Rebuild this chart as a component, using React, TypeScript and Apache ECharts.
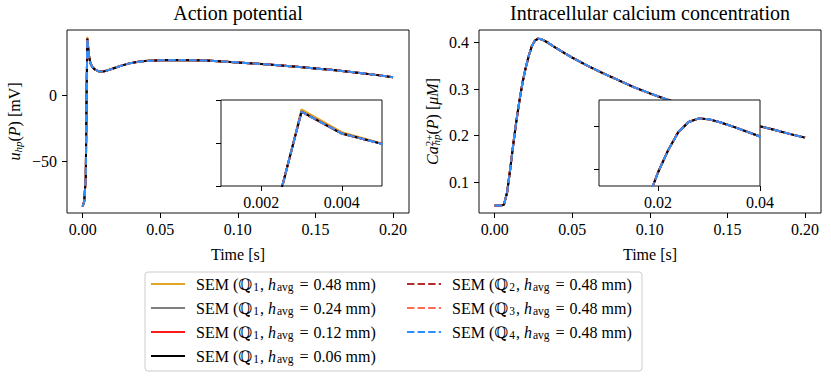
import React, { useEffect, useRef } from 'react';
import * as echarts from 'echarts';

// ---------- data ----------
const timeAP = [0, 0.001, 0.002, 0.0025, 0.003, 0.004, 0.005, 0.006, 0.007, 0.008, 0.010, 0.012, 0.014, 0.016, 0.020, 0.025, 0.030, 0.035, 0.040, 0.050, 0.060, 0.070, 0.080, 0.090, 0.100, 0.110, 0.120, 0.130, 0.140, 0.150, 0.160, 0.170, 0.180, 0.190, 0.200];
const apCoarse = [-84, -80, -62, -3, 44.6, 31.3, 24.8, 22.4, 20.9, 19.8, 18.7, 18.4, 18.6, 19.2, 20.8, 22.8, 24.5, 25.6, 26.3, 26.8, 27.0, 26.9, 26.6, 26.0, 25.2, 24.4, 23.6, 22.7, 21.7, 20.7, 19.6, 18.4, 17.1, 15.6, 14.0];
const apRefined = [-84, -80, -62, -2, 43.2, 30.5, 24.5, 22.3, 20.8, 19.7, 18.6, 18.3, 18.6, 19.2, 20.8, 22.8, 24.5, 25.6, 26.3, 26.8, 27.0, 26.9, 26.6, 26.0, 25.2, 24.4, 23.6, 22.7, 21.7, 20.7, 19.6, 18.4, 17.1, 15.6, 14.0];

const timeCa = [0, 0.002, 0.004, 0.006, 0.008, 0.010, 0.012, 0.014, 0.016, 0.018, 0.020, 0.022, 0.024, 0.026, 0.028, 0.030, 0.032, 0.035, 0.040, 0.045, 0.050, 0.060, 0.070, 0.080, 0.090, 0.100, 0.110, 0.120, 0.130, 0.140, 0.150, 0.160, 0.170, 0.180, 0.190, 0.200];
const caValues = [0.050, 0.050, 0.050, 0.052, 0.078, 0.128, 0.182, 0.232, 0.276, 0.315, 0.346, 0.372, 0.393, 0.4045, 0.4086, 0.4075, 0.4045, 0.3985, 0.3875, 0.3775, 0.368, 0.350, 0.334, 0.319, 0.304, 0.291, 0.279, 0.268, 0.257, 0.247, 0.238, 0.229, 0.221, 0.213, 0.204, 0.196];

const seriesNames = ['Q1_048', 'Q1_024', 'Q1_012', 'Q1_006', 'Q2_048', 'Q3_048', 'Q4_048'];
const seriesQ = ['1', '1', '1', '1', '2', '3', '4'];
const seriesH = ['0.48', '0.24', '0.12', '0.06', '0.48', '0.48', '0.48'];
const seriesColors = ['#E0A526', '#7f7f7f', '#ff1a1a', '#000000', '#b52a2a', '#ff6a50', '#2a8fff'];
const seriesDashed = [false, false, false, false, true, true, true];

const apXTicks = [0, 0.05, 0.1, 0.15, 0.2];
const apYTicks = [-50, 0];
const caXTicks = [0, 0.05, 0.1, 0.15, 0.2];
const caYTicks = [0.1, 0.2, 0.3, 0.4];
const apInsetXTicks = [0.002, 0.004];
const apInsetYTicks = [0, 25, 50];
const caInsetXTicks = [0.02, 0.04];
const caInsetYTicks = [0.35, 0.4];

// ---------- styling ----------
const FONT = "'Liberation Serif', 'DejaVu Serif', serif";
const FS = 16;

const rich = {
  it: { fontStyle: 'italic', fontFamily: FONT, fontSize: FS, lineHeight: 18 },
  eq: { fontFamily: FONT, fontSize: FS, lineHeight: 18, padding: [0, 5, 0, 5] },
  sub: { fontFamily: FONT, fontSize: 11.5, verticalAlign: 'bottom', lineHeight: 10, padding: [0, 1, 0, 1] },
  subit: { fontFamily: FONT, fontStyle: 'italic', fontSize: 11, verticalAlign: 'bottom', lineHeight: 10 },
  sup: { fontFamily: FONT, fontSize: 11, verticalAlign: 'top', lineHeight: 10 },
  subneg: { fontFamily: FONT, fontStyle: 'italic', fontSize: 11, verticalAlign: 'bottom', lineHeight: 10, padding: [0, 0, 0, -11] },
};

type Panel = {
  time: number[];
  values: (i: number) => number[];
};

const panels: Panel[] = [
  { time: timeAP, values: (i) => (i === 0 ? apCoarse : apRefined) },
  { time: timeCa, values: () => caValues },
];

function makeSeries() {
  const out: any[] = [];
  panels.forEach((p, pi) => {
    [false, true].forEach((inset) => {
      const axisIndex = pi * 2 + (inset ? 1 : 0);
      seriesNames.forEach((name, i) => {
        const vals = p.values(i);
        out.push({
          type: 'line',
          name,
          xAxisIndex: axisIndex,
          yAxisIndex: axisIndex,
          data: p.time.map((t, k) => [t, vals[k]]),
          symbol: 'none',
          showSymbol: false,
          clip: true,
          z: inset ? 11 : 2,
          lineStyle: {
            color: seriesColors[i],
            width: 2,
            type: seriesDashed[i] ? [7.4, 3.2] : 'solid',
            cap: 'butt',
          },
          itemStyle: { color: seriesColors[i] },
          emphasis: { disabled: true },
        });
      });
    });
  });
  return out;
}

function axis(opts: any) {
  const {
    gridIndex, min, max, ticks, showLabels, formatter, margin, z, name, nameGap, position,
  } = opts;
  return {
    type: 'value',
    gridIndex,
    min,
    max,
    position,
    z: z ?? 0,
    name,
    nameLocation: 'middle',
    nameGap,
    nameTextStyle: { fontFamily: FONT, fontSize: FS, color: '#000', lineHeight: 18, rich },
    axisLine: { show: false, onZero: false },
    splitLine: { show: false },
    axisTick: {
      show: true,
      inside: false,
      length: 5,
      lineStyle: { color: '#000', width: 1 },
      customValues: ticks,
    },
    axisLabel: {
      show: showLabels,
      customValues: ticks,
      formatter,
      margin: margin ?? 8,
      fontFamily: FONT,
      fontSize: FS,
      color: '#000',
    },
  };
}

const fmtMinus = (v: number) => (v < 0 ? '\u2212' + Math.abs(v) : String(v));

const App: React.FC = () => {
  const ref = useRef<HTMLDivElement>(null);
  useEffect(() => {
    if (!ref.current) return;
    const chart = echarts.init(ref.current, undefined, { renderer: 'svg' });
    const grids = [
      { left: 67, top: 30, width: 342, height: 183, z: 0, backgroundColor: 'transparent' },
      { left: 221, top: 100, width: 161, height: 86, z: 10, backgroundColor: '#fff' },
      { left: 479, top: 30, width: 342, height: 183, z: 0, backgroundColor: 'transparent' },
      { left: 599, top: 100, width: 161, height: 86, z: 10, backgroundColor: '#fff' },
    ].map((g) => ({ ...g, show: true, borderColor: '#111', borderWidth: 1, containLabel: false }));

    const option: any = {
      animation: false,
      backgroundColor: '#fff',
      title: [
        {
          text: 'Action potential', left: 238, top: 3, textAlign: 'center', padding: 0,
          textStyle: { fontFamily: FONT, fontSize: 20, fontWeight: 'normal', color: '#000' },
        },
        {
          text: 'Intracellular calcium concentration', left: 650, top: 3, textAlign: 'center', padding: 0,
          textStyle: { fontFamily: FONT, fontSize: 20, fontWeight: 'normal', color: '#000' },
        },
      ],
      grid: grids,
      xAxis: [
        axis({ gridIndex: 0, min: -0.0101, max: 0.2103, ticks: apXTicks, showLabels: true, formatter: (v: number) => v.toFixed(2), name: 'Time [s]', nameGap: 32, position: 'bottom' }),
        axis({ gridIndex: 1, min: 0.001, max: 0.005, ticks: apInsetXTicks, showLabels: true, formatter: (v: number) => v.toFixed(3), z: 12, position: 'bottom' }),
        axis({ gridIndex: 2, min: -0.0101, max: 0.2103, ticks: caXTicks, showLabels: true, formatter: (v: number) => v.toFixed(2), name: 'Time [s]', nameGap: 32, position: 'bottom' }),
        axis({ gridIndex: 3, min: 0.0084, max: 0.04, ticks: caInsetXTicks, showLabels: true, formatter: (v: number) => v.toFixed(2), z: 12, position: 'bottom' }),
      ],
      yAxis: [
        axis({ gridIndex: 0, min: -88.9, max: 49.8, ticks: apYTicks, showLabels: true, formatter: fmtMinus, margin: 10, name: '{it|u}{subit|hp}({it|P}) [mV]', nameGap: 44, position: 'left' }),
        axis({ gridIndex: 1, min: 0, max: 50, ticks: apInsetYTicks, showLabels: false, z: 12, position: 'left' }),
        axis({ gridIndex: 2, min: 0.034, max: 0.4272, ticks: caYTicks, showLabels: true, formatter: (v: number) => v.toFixed(1), margin: 10, name: '{it|Ca}{sup|2+}{subneg|hp}({it|P}) [{it|μM}]', nameGap: 38, position: 'left' }),
        axis({ gridIndex: 3, min: 0.33, max: 0.43, ticks: caInsetYTicks, showLabels: false, z: 12, position: 'left' }),
      ],
      legend: {
        orient: 'vertical',
        left: 145,
        top: 272,
        height: 95,
        itemWidth: 34,
        itemHeight: 18,
        itemGap: 6,
        padding: [3, 7, 6, 5],
        borderColor: '#cccccc',
        borderWidth: 1,
        borderRadius: 3,
        backgroundColor: '#fff',
        selectedMode: false,
        itemStyle: { color: 'transparent', borderColor: 'transparent', borderWidth: 0, opacity: 0 },
        data: seriesNames.map((n, i) => ({ name: n, textStyle: { width: i < 4 ? 204 : 183 } })),
        formatter: (n: string) => {
          const i = seriesNames.indexOf(n);
          return `SEM (\u211A{sub|${seriesQ[i]}}, {it|h}{sub|avg}{eq|=}${seriesH[i]} mm)`;
        },
        textStyle: { fontFamily: FONT, fontSize: FS, color: '#000', lineHeight: 18, padding: [0, 0, 0, 6], rich },
      },
      series: makeSeries(),
    };
    chart.setOption(option);
    return () => chart.dispose();
  }, []);
  return (
    <div
      ref={ref}
      style={{ position: 'fixed', left: 0, top: 0, width: 831, height: 381, background: '#fff' }}
    />
  );
};

export default App;
